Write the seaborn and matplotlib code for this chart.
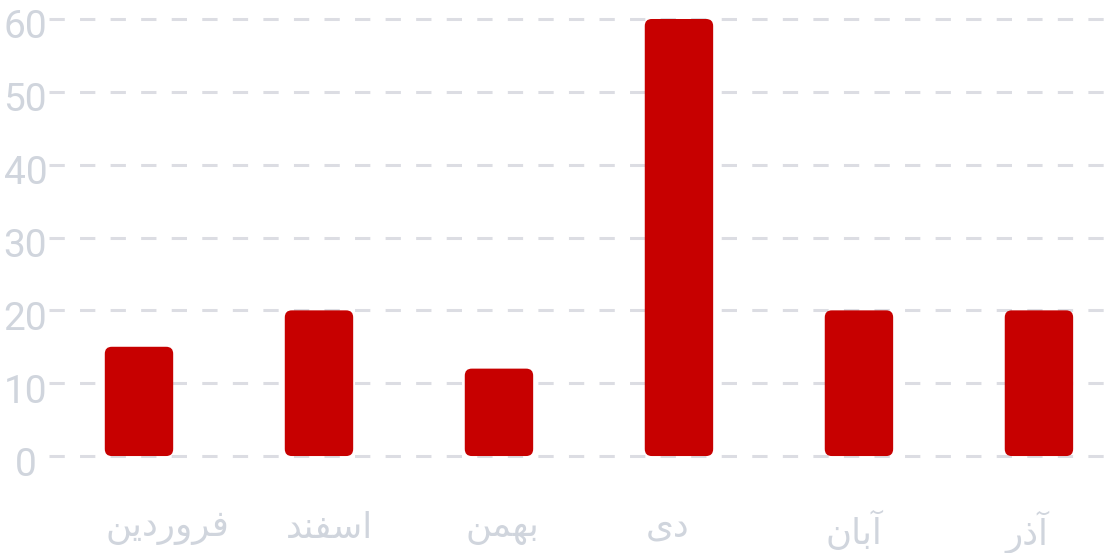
import numpy as np
import matplotlib as mpl
import matplotlib.pyplot as plt
import matplotlib.transforms as mtransforms
from matplotlib.patches import FancyBboxPatch
import seaborn as sns
import pandas as pd

months = ['فروردین', 'اسفند', 'بهمن', 'دی', 'آبان', 'آذر']
values = [15, 20, 12, 60, 20, 20]
yticks = [0, 10, 20, 30, 40, 50, 60]

bar_color = '#c70000'
text_color = '#d0d5dd'
grid_color = '#dcdde3'

# presentation forms: (isolated, final, initial, medial); None = right-joining only
FORMS = {
    'ا': ('\uFE8D', '\uFE8E', None, None),
    'آ': ('\uFE81', '\uFE82', None, None),
    'د': ('\uFEA9', '\uFEAA', None, None),
    'ذ': ('\uFEAB', '\uFEAC', None, None),
    'ر': ('\uFEAD', '\uFEAE', None, None),
    'و': ('\uFEED', '\uFEEE', None, None),
    'ب': ('\uFE8F', '\uFE90', '\uFE91', '\uFE92'),
    'س': ('\uFEB1', '\uFEB2', '\uFEB3', '\uFEB4'),
    'ف': ('\uFED1', '\uFED2', '\uFED3', '\uFED4'),
    'م': ('\uFEE1', '\uFEE2', '\uFEE3', '\uFEE4'),
    'ن': ('\uFEE5', '\uFEE6', '\uFEE7', '\uFEE8'),
    'ه': ('\uFEE9', '\uFEEA', '\uFEEB', '\uFEEC'),
    'ی': ('\uFEEF', '\uFEF0', '\uFEF3', '\uFEF4'),
}


def shape(word):
    # minimal arabic shaping + reversal, matplotlib draws left to right
    out = []
    for i, ch in enumerate(word):
        f = FORMS.get(ch)
        if f is None:
            out.append(ch)
            continue
        prev = FORMS.get(word[i - 1]) if i > 0 else None
        nxt = FORMS.get(word[i + 1]) if i + 1 < len(word) else None
        join_prev = prev is not None and prev[2] is not None
        join_next = nxt is not None and f[2] is not None
        if join_prev and join_next:
            out.append(f[3])
        elif join_prev:
            out.append(f[1])
        elif join_next:
            out.append(f[2])
        else:
            out.append(f[0])
    return ''.join(reversed(out))


df = pd.DataFrame({'month': months, 'value': values})

sns.set_theme(style='white')
plt.rcParams['font.family'] = ['Roboto', 'DejaVu Sans']

fig = plt.figure(figsize=(11.16, 5.53), dpi=100)
ax = fig.add_axes([0.0439, 0.149, 0.9677, 0.843])

sns.barplot(data=df, x='month', y='value', color=bar_color, width=0.38,
            saturation=1, ax=ax, zorder=3)

ax.set_xlim(-0.5, 5.5)
ax.set_ylim(-2, 62)

# swap the plain bars for rounded ones
px_x = 1080 / 6
px_y = 437 / 60
for p in list(ax.patches):
    x, y = p.get_x(), p.get_y()
    w, h = p.get_width(), p.get_height()
    p.remove()
    ax.add_patch(FancyBboxPatch((x, y), w, h,
                                boxstyle='round,pad=0,rounding_size=%f' % (7 / px_x),
                                mutation_aspect=px_x / px_y,
                                fc=bar_color, ec='none', zorder=3))

ax.set_yticks(yticks)
ax.yaxis.grid(True, color=grid_color, linewidth=2.2, linestyle=(0, (5, 5)), zorder=0)
ax.set_axisbelow(True)
for s in ax.spines.values():
    s.set_visible(False)

ax.set_xlabel('')
ax.set_ylabel('')
ax.set_xticks(range(len(months)))
ax.set_xticklabels([shape(m) for m in months], fontsize=25.7, color=text_color,
                   family=['DejaVu Sans'])
ax.tick_params(axis='x', length=0, pad=29)
ax.tick_params(axis='y', length=0, pad=17, labelsize=28, labelcolor=text_color)
for lab in ax.get_xticklabels():
    lab.set_horizontalalignment('left')
    lab.set_transform(lab.get_transform() +
                      mtransforms.ScaledTranslation(-33 / 100, 0, fig.dpi_scale_trans))
for lab in ax.get_yticklabels():
    lab.set_horizontalalignment('center')
    lab.set_transform(lab.get_transform() +
                      mtransforms.ScaledTranslation(0, -5 / 100, fig.dpi_scale_trans))

fig.savefig('out.png', dpi=100)
